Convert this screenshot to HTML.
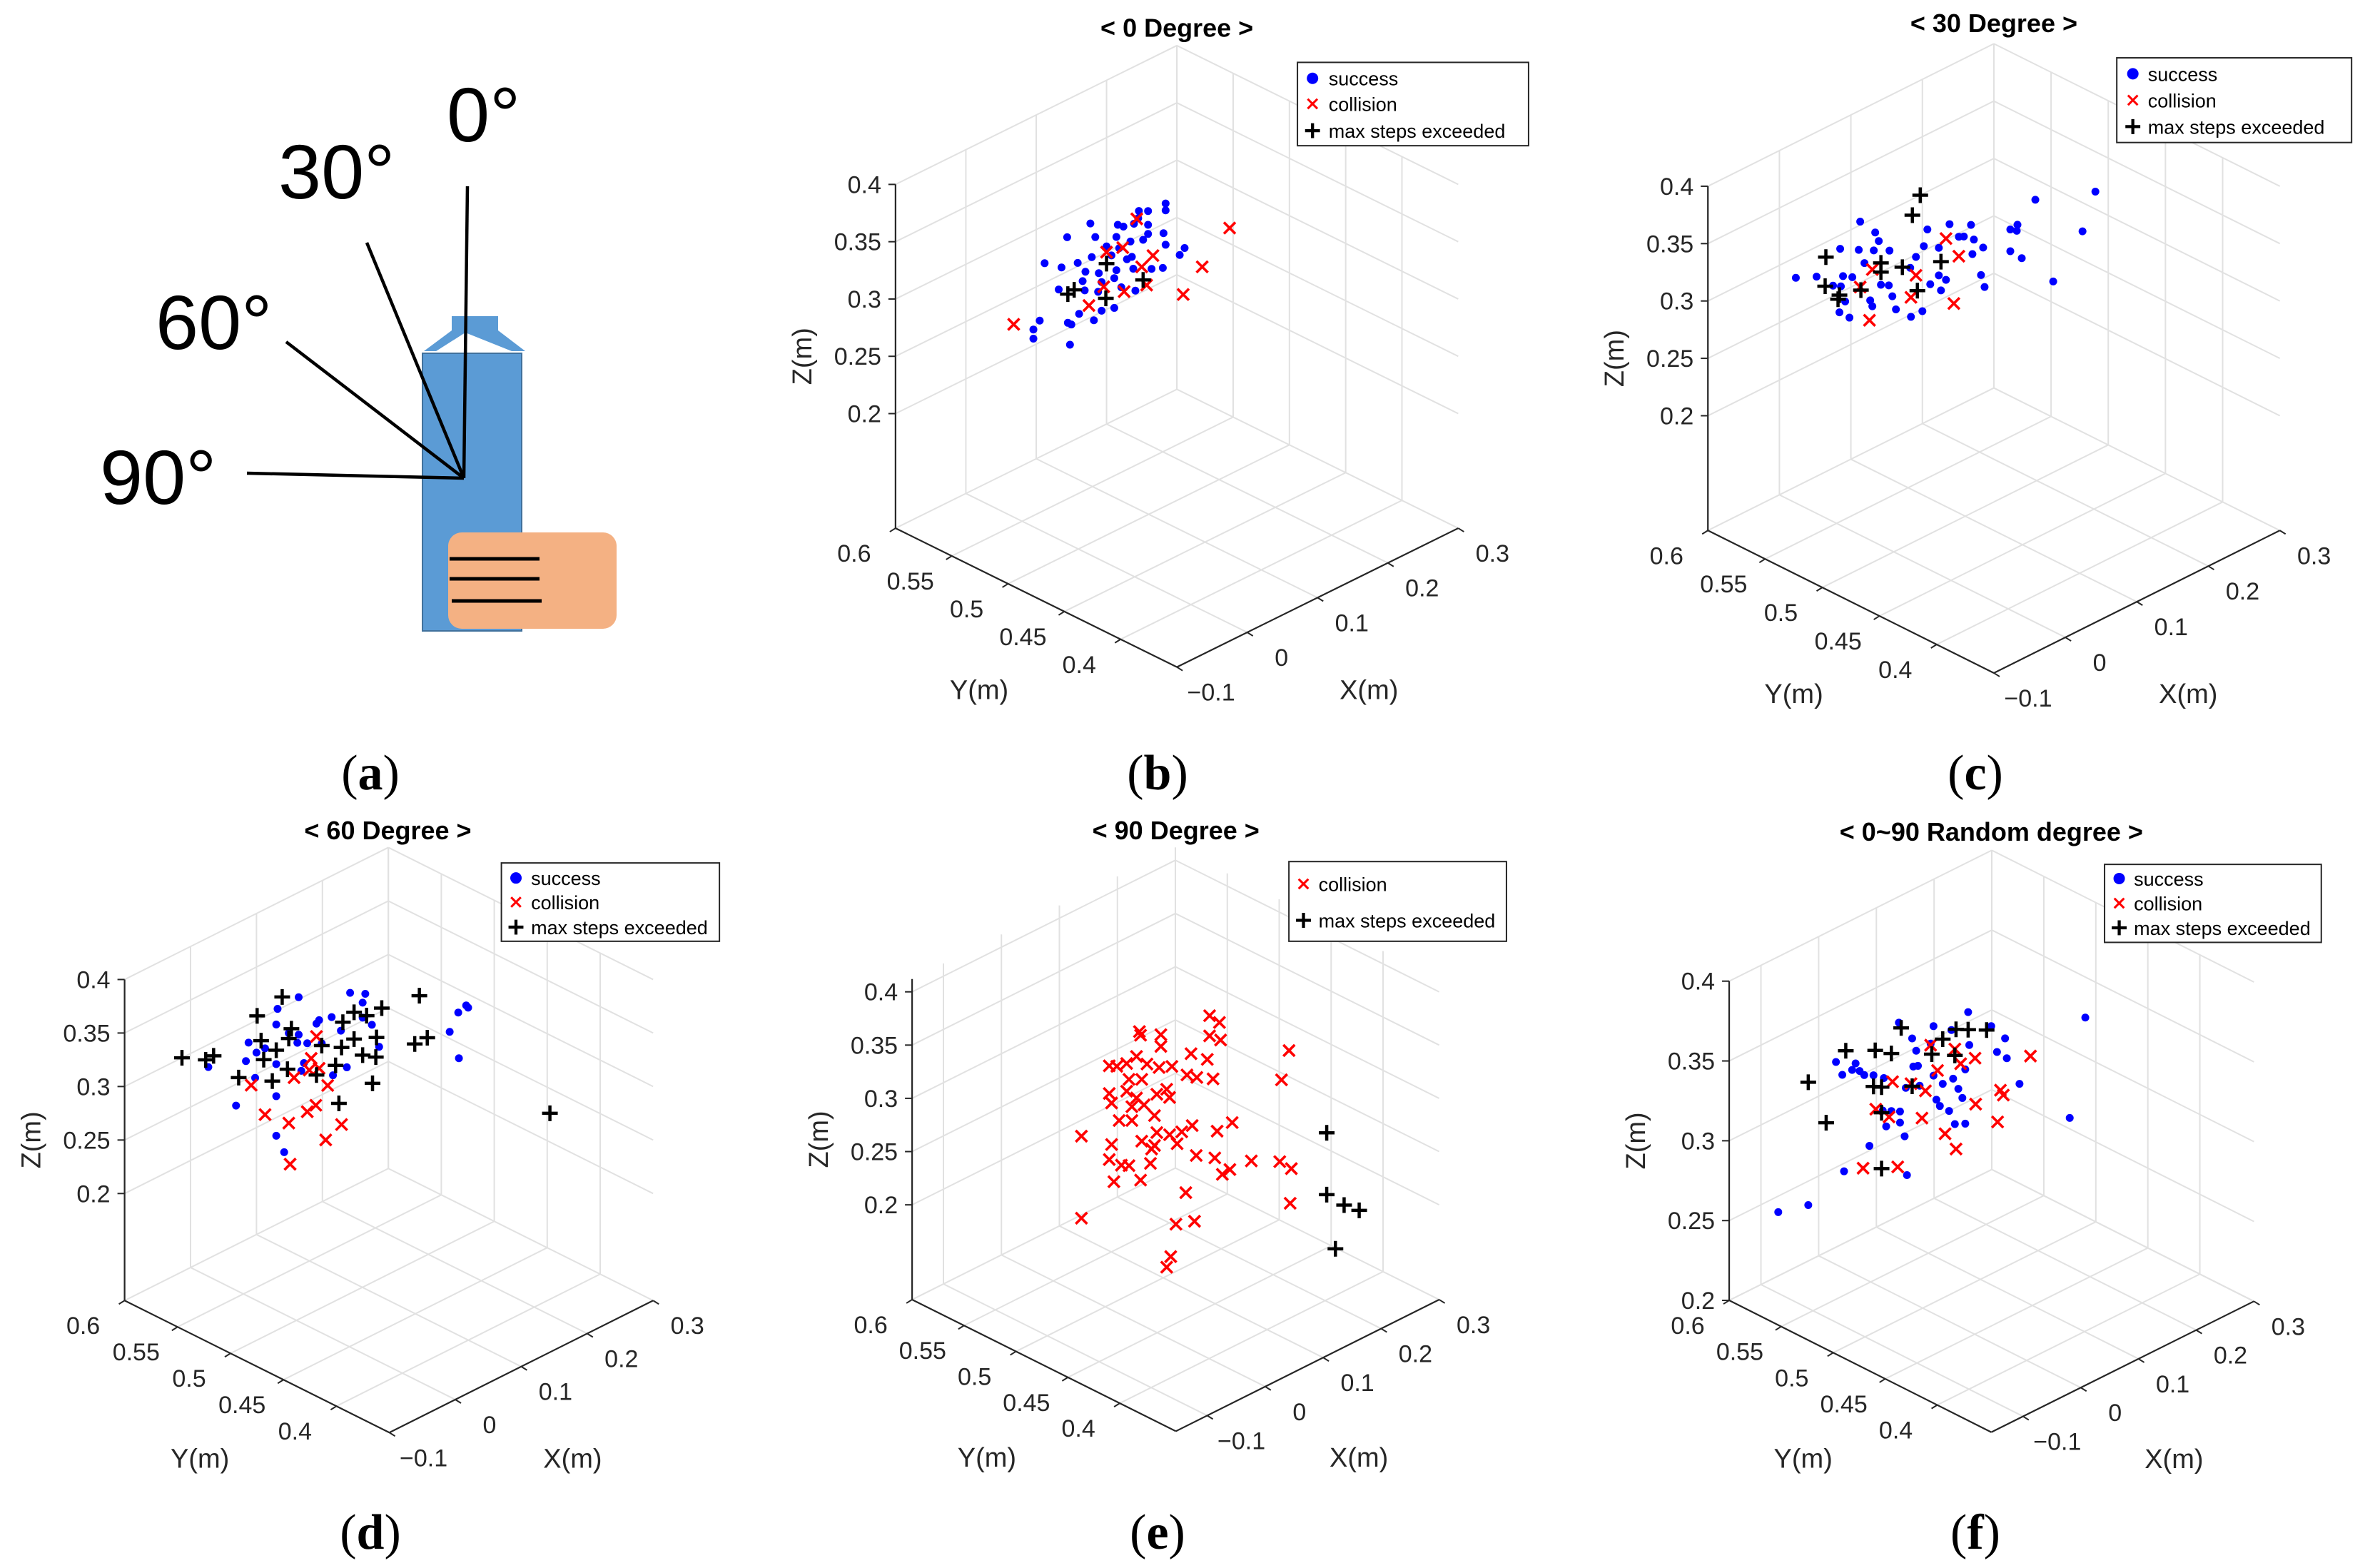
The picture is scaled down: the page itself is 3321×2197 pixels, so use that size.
<!DOCTYPE html>
<html><head><meta charset="utf-8"><style>
html,body{margin:0;padding:0;background:#fff}
svg{display:block}
text{font-family:"Liberation Sans",Arial,sans-serif}
</style></head><body>
<svg id="fig" width="3321" height="2197" viewBox="0 0 3321 2197" xmlns="http://www.w3.org/2000/svg">
<rect width="3321" height="2197" fill="#fff"/>
<g id="panel-a">
  <polygon points="594,492 633,463 633,443 698,443 698,463 736,492" fill="#5b9bd5"/>
  <polygon points="608,494 652,466 722,494" fill="#fff"/>
  <rect x="592" y="495" width="139" height="389" fill="#5b9bd5" stroke="#41719c" stroke-width="2"/>
  <rect x="628" y="746" width="236" height="135" rx="19" fill="#f4b183"/>
  <line x1="630" y1="783" x2="756" y2="783" stroke="#000" stroke-width="5"/>
  <line x1="630" y1="811" x2="756" y2="811" stroke="#000" stroke-width="5"/>
  <line x1="633" y1="842" x2="759" y2="842" stroke="#000" stroke-width="5"/>
  <g stroke="#000" stroke-width="4.5" fill="none">
    <line x1="650" y1="670" x2="655" y2="261"/>
    <line x1="650" y1="670" x2="514" y2="340"/>
    <line x1="650" y1="670" x2="401" y2="479"/>
    <line x1="650" y1="670" x2="346" y2="663"/>
  </g>
  <g font-size="108" fill="#000" style="font-family:'DejaVu Sans','Liberation Sans',sans-serif">
    <text x="626" y="198">0°</text>
    <text x="390" y="278">30°</text>
    <text x="218" y="489">60°</text>
    <text x="140" y="706">90°</text>
  </g>
</g>
</svg>
<script>
// ---- data (x, z in metres; points drawn on the back y=ymax plane) ----
const xTicks=[-0.1,0,0.1,0.2,0.3];
const yTicks=[0.4,0.45,0.5,0.55,0.6];
const zTicks=[0.2,0.25,0.3,0.35,0.4];
const xTickLabels=["\u22120.1","0","0.1","0.2","0.3"];
const yTickLabels=["0.4","0.45","0.5","0.55","0.6"];
const zTickLabels=["0.2","0.25","0.3","0.35","0.4"];
const seriesNames=["success","collision","max steps exceeded"];

const bSuccX=[.284,.284,.259,.246,.245,.259,.239,.216,.224,.177,.281,.259,.252,.214,.184,.144,.234,.284,.200,.218,.179,.207,.229,.236,.311,.304,.280,.264,.159,.136,.112,.170,.189,.214,.238,.193,.211,.166,.132,.169,.188,.241,.221,.211,.193,.161,.182,.145,.150,.105,.096,.096,.148];
const bSuccZ=[.267,.261,.268,.272,.266,.256,.263,.269,.265,.282,.242,.248,.245,.259,.268,.280,.249,.231,.255,.248,.252,.245,.235,.235,.220,.216,.212,.216,.253,.256,.267,.242,.235,.230,.224,.226,.224,.235,.238,.226,.219,.204,.213,.198,.201,.208,.196,.205,.202,.219,.214,.206,.185];
const bCollX=[.243,.375,.266,.250,.336,.200,.223,.196,.225,.257,.309,.175,.068];
const bCollZ=[.266,.218,.227,.222,.196,.250,.247,.221,.208,.204,.180,.211,.227];
const bMaxX=[.145,.154,.200,.199,.252];
const bMaxZ=[.230,.231,.240,.210,.210];

const cSuccX=[.023,.052,.085,.111,.113,.134,.139,.132,.154,.119,.089,.102,.075,.086,.092,.084,.098,.127,.130,.153,.158,.163,.184,.200,.191,.207,.202,.223,.238,.251,.268,.258,.272,.285,.270,.223,.233,.226,.282,.287,.323,.333,.332,.323,.339,.358,.442,.424,.383,.211,.183,.142];
const cSuccZ=[.282,.274,.288,.279,.303,.287,.278,.272,.265,.265,.263,.258,.259,.255,.240,.233,.224,.230,.224,.235,.224,.211,.198,.198,.248,.267,.254,.246,.262,.247,.252,.245,.238,.227,.226,.222,.215,.208,.204,.192,.231,.232,.227,.212,.201,.246,.227,.198,.167,.218,.241,.239];
const cCollX=[.233,.251,.191,.184,.244,.126,.113,.130];
const cCollZ=[.251,.230,.232,.215,.191,.213,.246,.256];
const cMaxX=[.197,.186,.065,.142,.142,.172,.226,.064,.084,.082,.114,.193];
const cMaxZ=[.300,.286,.287,.258,.250,.245,.233,.262,.248,.245,.243,.218];

const dSuccX=[.027,.069,.084,.088,.100,.098,.113,.130,.132,.130,.130,.130,.142,.149,.164,.164,.162,.168,.177,.191,.195,.214,.216,.237,.228,.242,.265,.261,.261,.275,.286,.393,.406,.418,.421,.407,.172,.199];
const dSuccZ=[.279,.230,.267,.283,.270,.247,.270,.287,.301,.250,.220,.183,.164,.273,.302,.267,.260,.232,.255,.269,.271,.268,.213,.214,.251,.282,.274,.267,.253,.242,.218,.199,.213,.216,.213,.170,.238,.248];
const dCollX=[.191,.183,.195,.180,.157,.092,.208,.113,.149,.177,.190,.229,.205,.151];
const dCollZ=[.257,.239,.226,.229,.229,.242,.206,.208,.189,.191,.193,.163,.156,.150];
const dMaxX=[-.013,.023,.035,.073,.101,.107,.111,.130,.124,.139,.153,.149,.147,.191,.199,.220,.231,.229,.248,.248,.267,.261,.282,.281,.290,.276,.225,.347,.340,.359,.545];
const dMaxZ=[.300,.287,.287,.255,.304,.279,.260,.263,.236,.310,.276,.268,.240,.221,.246,.221,.258,.235,.262,.237,.253,.218,.228,.210,.253,.187,.184,.247,.204,.204,.076];

const eCollX=[.359,.376,.238,.240,.275,.275,.359,.378,.496,.327,.355,.233,.186,.199,.216,.251,.272,.294,.320,.337,.365,.483,.220,.242,.285,.186,.216,.268,.190,.233,.290,.225,.246,.264,.203,.225,.329,.311,.398,.372,.138,.268,.290,.242,.264,.303,.190,.259,.186,.207,.220,.257,.336,.368,.431,.480,.500,.394,.381,.194,.240,.318,.498,.138,.301,.333,.292,.285];
const eCollZ=[.238,.227,.256,.252,.243,.232,.219,.210,.168,.211,.198,.234,.238,.234,.232,.222,.213,.208,.193,.186,.177,.144,.216,.210,.189,.212,.206,.189,.202,.195,.180,.189,.185,.170,.182,.176,.143,.142,.127,.126,.185,.153,.145,.152,.142,.133,.163,.140,.150,.139,.135,.127,.113,.102,.082,.068,.056,.084,.083,.127,.116,.083,.024,.108,.058,.052,.030,.022];
const eMaxX=[.561,.561,.591,.617,.576];
const eMaxZ=[.073,.015,-.003,-.015,-.040];

const fSuccX=[-.070,-.018,.030,.041,.044,.058,.064,.071,.079,.088,.095,.113,.117,.111,.126,.139,.141,.141,.149,.153,.162,.164,.172,.169,.175,.194,.199,.199,.204,.210,.215,.226,.233,.236,.242,.249,.254,.259,.261,.230,.299,.309,.323,.326,.348,.435,.462,.254,.151];
const fSuccZ=[.240,.235,.316,.306,.245,.306,.309,.303,.299,.253,.296,.291,.260,.271,.268,.321,.258,.265,.248,.223,.307,.289,.288,.298,.275,.298,.308,.277,.261,.256,.269,.250,.269,.240,.261,.254,.237,.306,.285,.300,.290,.272,.278,.265,.245,.208,.266,.271,.278];
const fCollX=[.128,.160,.185,.206,.236,.246,.271,.272,.315,.320,.310,.367,.179,.219,.238,.122,.099,.077,.137,.194];
const fCollZ=[.286,.279,.270,.279,.287,.276,.275,.246,.247,.243,.228,.259,.254,.237,.224,.265,.274,.241,.231,.297];
const fMaxX=[.143,.047,.098,.126,-.018,.013,.095,.109,.162,.196,.215,.238,.259,.291,.236,.109,.109];
const fMaxZ=[.317,.320,.311,.304,.312,.281,.289,.286,.277,.291,.297,.299,.295,.289,.283,.270,.235];

// ---- layout ----
const NS="http://www.w3.org/2000/svg";
const svg=document.getElementById('fig');
function mk(tag,attrs,parent){const e=document.createElementNS(NS,tag);for(const k in attrs)e.setAttribute(k,attrs[k]);(parent||svg).appendChild(e);return e;}

const panels=[
 {id:'b',title:'< 0 Degree >',cx:1100,cy:0,kx:0.704,ky:0.638,L:[220,1160],F:[780,1465],R:[1340,1160],xr:[-0.1,0.3],yr:[0.35,0.6],zr:[0.1,0.4],
  legend:{box:[1020,137,1480,320],rows:[172,228,287],mx:1050,tx:1082,items:[0,1,2]},titlePos:[780,60],
  series:[[bSuccX,bSuccZ],[bCollX,bCollZ],[bMaxX,bMaxZ]]},
 {id:'c',title:'< 30 Degree >',cx:2221,cy:0,kx:0.703,ky:0.638,L:[245,1165],F:[815,1478],R:[1385,1165],xr:[-0.1,0.3],yr:[0.35,0.6],zr:[0.1,0.4],
  legend:{box:[1060,127,1528,313],rows:[162,220,278],mx:1092,tx:1122,items:[0,1,2]},titlePos:[815,50],
  series:[[cSuccX,cSuccZ],[cCollX,cCollZ],[cMaxX,cMaxZ]]},
 {id:'d',title:'< 60 Degree >',cx:0,cy:1130,kx:0.704,ky:0.638,L:[248,1085],F:[775,1375],R:[1300,1085],xr:[-0.1,0.3],yr:[0.35,0.6],zr:[0.1,0.4],
  legend:{box:[998,124,1432,296],rows:[157,210,265],mx:1027,tx:1057,items:[0,1,2]},titlePos:[772,52],
  series:[[dSuccX,dSuccZ],[dCollX,dCollZ],[dMaxX,dMaxZ]]},
 {id:'e',title:'< 90 Degree >',cx:1100,cy:1130,kx:0.704,ky:0.638,L:[253,1083],F:[778,1372],R:[1302,1083],xr:[-0.154,0.3],yr:[0.346,0.6],zr:[0.111,0.412],
  legend:{box:[1003,121,1436,296],rows:[170,250],mx:1032,tx:1062,items:[1,2]},titlePos:[778,52],
  series:[null,[eCollX,eCollZ],[eMaxX,eMaxZ]]},
 {id:'f',title:'< 0~90 Random degree >',cx:2250,cy:1130,kx:0.684,ky:0.639,L:[253,1083],F:[790,1372],R:[1328,1085],xr:[-0.155,0.3],yr:[0.348,0.6],zr:[0.2,0.4],
  legend:{box:[1022,127,1466,298],rows:[158,212,266],mx:1052,tx:1082,items:[0,1,2]},titlePos:[790,55],
  series:[[fSuccX,fSuccZ],[fCollX,fCollZ],[fMaxX,fMaxZ]]}
];
const zTopPx={b:405,c:409,d:380,e:379,f:383};

function drawMarker(g,type,x,y,s){
  if(type===0){const c=mk('circle',{cx:x,cy:y,r:5.5*s,fill:'#0000ff'},g);
    
    }
  else if(type===1){const p=mk('path',{d:`M${x-8*s},${y-8*s}L${x+8*s},${y+8*s}M${x-8*s},${y+8*s}L${x+8*s},${y-8*s}`,stroke:'#ff0000','stroke-width':3.6*s,fill:'none'},g);
    
    }
  else {const p=mk('path',{d:`M${x-11*s},${y}L${x+11*s},${y}M${x},${y-11*s}L${x},${y+11*s}`,stroke:'#000','stroke-width':4.5*s,fill:'none'},g);
    
    }
}

panels.forEach(p=>{
  const g=mk('g',{});
  
  
  const kz=(p.L[1]-zTopPx[p.id])/(p.zr[1]-p.zr[0]);
  const toO=(zx,zy)=>[p.cx+zx*p.kx,p.cy+zy*p.ky];
  function P(x,y,z){
    const fx=(x-p.xr[0])/(p.xr[1]-p.xr[0]);
    const fy=(y-p.yr[0])/(p.yr[1]-p.yr[0]);
    const bx=p.F[0]+fx*(p.R[0]-p.F[0])+fy*(p.L[0]-p.F[0]);
    const by=p.F[1]+fx*(p.R[1]-p.F[1])+fy*(p.L[1]-p.F[1])-(z-p.zr[0])*kz;
    return toO(bx,by);
  }
  const [x0,x1]=p.xr,[y0,y1]=p.yr,[z0,z1]=p.zr;
  const inR=(v,r)=>v>=r[0]-1e-9&&v<=r[1]+1e-9;
  const grid=mk('g',{stroke:'#e1e1e1','stroke-width':2,fill:'none'},g);
  
  
  function ln(a,b,par,col,w){mk('line',{x1:a[0],y1:a[1],x2:b[0],y2:b[1],stroke:col||'#e1e1e1','stroke-width':w||2},par);}
  xTicks.filter(v=>inR(v,p.xr)).forEach(v=>{ln(P(v,y1,z0),P(v,y1,z1),grid);ln(P(v,y0,z0),P(v,y1,z0),grid);});
  yTicks.filter(v=>inR(v,p.yr)).forEach(v=>{ln(P(x1,v,z0),P(x1,v,z1),grid);ln(P(x0,v,z0),P(x1,v,z0),grid);});
  zTicks.filter(v=>inR(v,p.zr)).forEach(v=>{ln(P(x0,y1,v),P(x1,y1,v),grid);ln(P(x1,y0,v),P(x1,y1,v),grid);});
  const ax=mk('g',{},g);
  
  
  ln(P(x0,y1,z0),P(x0,y1,z1),ax,'#262626',2.2);
  ln(P(x0,y0,z0),P(x0,y1,z0),ax,'#262626',2.2);
  ln(P(x0,y0,z0),P(x1,y0,z0),ax,'#262626',2.2);
  const lab=mk('g',{'font-size':34,fill:'#262626'},g);
  
  
  zTicks.forEach((v,i)=>{if(!inR(v,p.zr))return;const q=P(x0,y1,v);ln([q[0]-10,q[1]],q,ax,'#262626',2);
    const t=mk('text',{x:q[0]-20,y:q[1]+12,'text-anchor':'end'},lab);t.textContent=zTickLabels[i];});
  yTicks.forEach((v,i)=>{if(!inR(v,p.yr))return;const q=P(x0,v,z0);ln([q[0]-8,q[1]+5],q,ax,'#262626',2);
    const t=mk('text',{x:q[0]-58,y:q[1]+47,'text-anchor':'middle'},lab);t.textContent=yTickLabels[i];});
  xTicks.forEach((v,i)=>{if(!inR(v,p.xr))return;const q=P(v,y0,z0);ln([q[0]+8,q[1]+5],q,ax,'#262626',2);
    const t=mk('text',{x:q[0]+48,y:q[1]+47,'text-anchor':'middle'},lab);t.textContent=xTickLabels[i];});
  const ym=P(x0,(y0+y1)/2,z0), xm=P((x0+x1)/2,y0,z0), zb=P(x0,y1,(z0+z1)/2);
  let t=mk('text',{x:ym[0]-80,y:ym[1]+142,'text-anchor':'middle','font-size':38,fill:'#262626'},g);t.textContent='Y(m)';
  
  t=mk('text',{x:xm[0]+72,y:xm[1]+142,'text-anchor':'middle','font-size':38,fill:'#262626'},g);t.textContent='X(m)';
  
  t=mk('text',{x:0,y:0,'text-anchor':'middle','font-size':38,fill:'#262626',transform:`translate(${zb[0]-118},${zb[1]}) rotate(-90)`},g);t.textContent='Z(m)';
  
  const tp=toO(p.titlePos[0],p.titlePos[1]);
  t=mk('text',{x:tp[0],y:tp[1]+13,'text-anchor':'middle','font-size':36,'font-weight':'bold',fill:'#000'},g);t.textContent=p.title;
  
  p.series.forEach((s,si)=>{ if(!s)return;
    const sg=mk('g',{},g);
    
    
    const n=Math.min(s[0].length,s[1].length);
    for(let i=0;i<n;i++){const q=P(s[0][i],y1,s[1][i]);drawMarker(sg,si,q[0],q[1],1);}
  });
  const lb=p.legend.box, a=toO(lb[0],lb[1]), b=toO(lb[2],lb[3]);
  const lg=mk('g',{},g);
  
  
  mk('rect',{x:a[0],y:a[1],width:b[0]-a[0],height:b[1]-a[1],fill:'#fff',stroke:'#262626','stroke-width':2},lg);
  p.legend.items.forEach((si,k)=>{
    const m=toO(p.legend.mx,p.legend.rows[k]), tx=toO(p.legend.tx,p.legend.rows[k]);
    const e=mk('g',{},lg);
    
    
    if(si===0) mk('circle',{cx:m[0],cy:m[1],r:8,fill:'#0000ff'},e); else drawMarker(e,si,m[0],m[1],si===1?0.85:0.95);
    const tt=mk('text',{x:tx[0],y:tx[1]+10,'font-size':27,fill:'#000'},e);tt.textContent=seriesNames[si];
  });
});

const subLabels=[['a',519,1106],['b',1622,1106],['c',2768,1106],['d',519,2170],['e',1622,2170],['f',2768,2170]];
subLabels.forEach(s=>{
  const t=mk('text',{x:s[1],y:s[2],'text-anchor':'middle','font-size':70,fill:'#000'});
  t.setAttribute('style','font-family:"Liberation Serif",serif');
  
  
  t.appendChild(document.createTextNode('('));
  const b=document.createElementNS(NS,'tspan');b.setAttribute('font-weight','bold');b.textContent=s[0];t.appendChild(b);
  t.appendChild(document.createTextNode(')'));
});
</script>
</body></html>
